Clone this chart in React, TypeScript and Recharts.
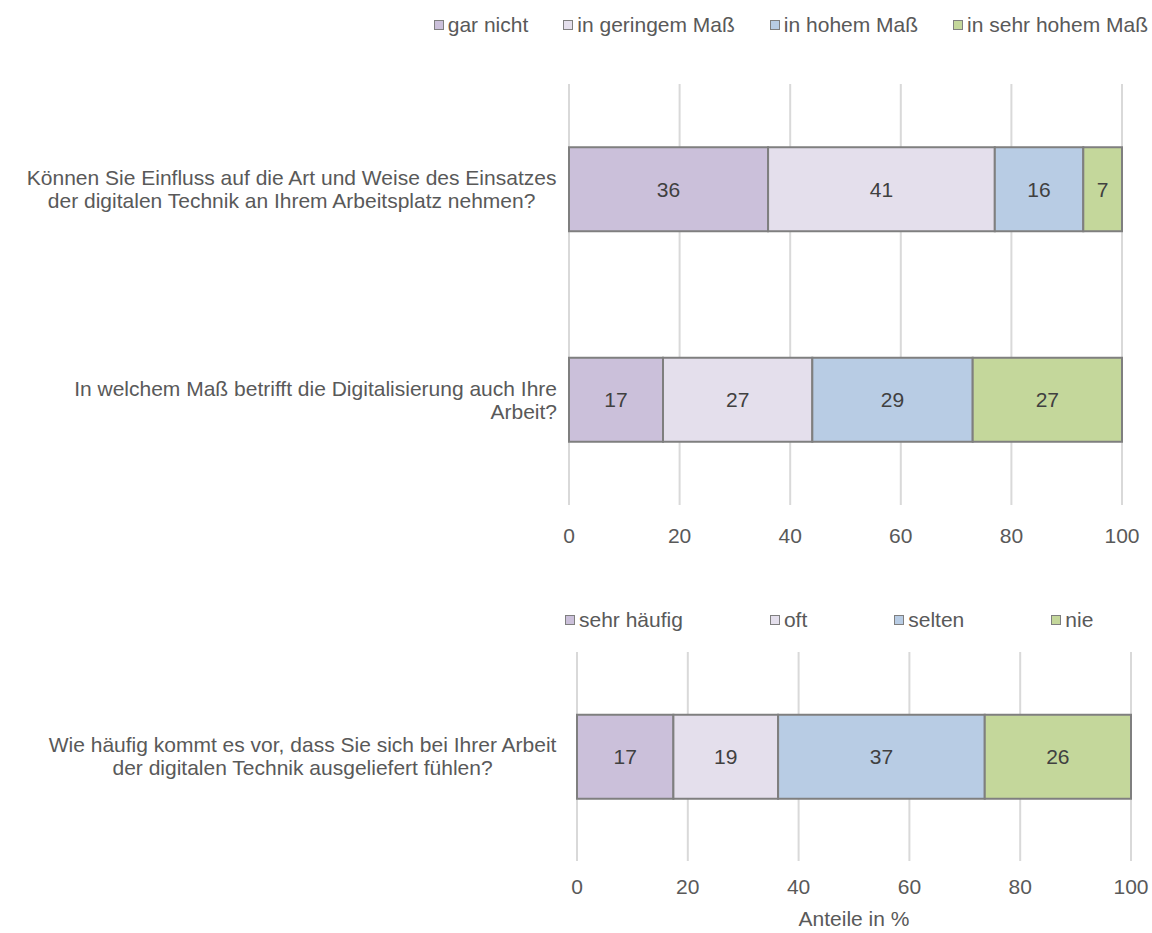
import React from "react";
import { BarChart, Bar, XAxis, YAxis, CartesianGrid, LabelList, Label } from "recharts";

// top chart: influence / affectedness
const topQuestions = [
  "Können Sie Einfluss auf die Art und Weise des Einsatzes\nder digitalen Technik an Ihrem Arbeitsplatz nehmen?",
  "In welchem Maß betrifft die Digitalisierung auch Ihre\nArbeit?",
];
const topSeries = ["gar nicht", "in geringem Maß", "in hohem Maß", "in sehr hohem Maß"];
const garNicht = [36, 17];
const geringem = [41, 27];
const hohem = [16, 29];
const sehrHohem = [7, 27];

// bottom chart: frequency
const bottomQuestions = [
  "Wie häufig kommt es vor, dass Sie sich bei Ihrer Arbeit\nder digitalen Technik ausgeliefert fühlen?",
];
const bottomSeries = ["sehr häufig", "oft", "selten", "nie"];
const sehrHaeufig = [17.4];
const oft = [18.9];
const selten = [37.3];
const nie = [26.4];

const xTicks = [0, 20, 40, 60, 80, 100];
const axisTitle = "Anteile in %";

const COLORS = ["#CBC0DA", "#E4DFEC", "#B8CCE4", "#C4D79B"];
const TEXT = "#595959";
const FONT_SIZE = 21;
const FONT_FAMILY = "'Liberation Sans', Arial, sans-serif";
const LINE = 23;

const topData = topQuestions.map((q, i) => ({
  q,
  s0: garNicht[i],
  s1: geringem[i],
  s2: hohem[i],
  s3: sehrHohem[i],
}));
const bottomData = bottomQuestions.map((q, i) => ({
  q,
  s0: sehrHaeufig[i],
  s1: oft[i],
  s2: selten[i],
  s3: nie[i],
}));

let ctx: CanvasRenderingContext2D | null = null;
const textWidth = (t: string) => {
  if (!ctx) ctx = document.createElement("canvas").getContext("2d");
  if (!ctx) return t.length * FONT_SIZE * 0.5;
  ctx.font = `${FONT_SIZE}px ${FONT_FAMILY}`;
  return ctx.measureText(t).width;
};

const QuestionTick = (props: any) => {
  const { x, y, payload, align } = props;
  const lines = String(payload.value).split("\n");
  const cx = x - textWidth(lines[0]) / 2;
  const y0 = y - ((lines.length - 1) * LINE) / 2;
  return (
    <g>
      {lines.map((l: string, i: number) => (
        <text
          key={i}
          x={align === "right" ? x : cx}
          y={y0 + i * LINE}
          dy="0.35em"
          textAnchor={align === "right" ? "end" : "middle"}
          fill={TEXT}
          fontSize={FONT_SIZE}
        >
          {l}
        </text>
      ))}
    </g>
  );
};

const LegendRow = ({ names, style }: { names: string[]; style: React.CSSProperties }) => (
  <div
    style={{
      position: "absolute",
      display: "flex",
      alignItems: "center",
      fontSize: FONT_SIZE,
      lineHeight: "24px",
      color: TEXT,
      whiteSpace: "nowrap",
      ...style,
    }}
  >
    {names.map((n, i) => (
      <div key={n} style={{ display: "flex", alignItems: "center" }}>
        <span
          style={{
            display: "inline-block",
            width: 8,
            height: 8,
            background: COLORS[i],
            border: "1.5px solid #7F7F7F",
            marginRight: 4,
          }}
        />
        <span>{n}</span>
      </div>
    ))}
  </div>
);

const renderBars = () =>
  ["s0", "s1", "s2", "s3"].map((k, i) => (
    <Bar
      key={k}
      dataKey={k}
      stackId="a"
      fill={COLORS[i]}
      stroke="#7F7F7F"
      strokeWidth={2}
      isAnimationActive={false}
    >
      <LabelList
        dataKey={k}
        position="center"
        fill="#404040"
        fontSize={FONT_SIZE}
        formatter={(v: any) => Math.round(Number(v))}
      />
    </Bar>
  ));

export default function App() {
  return (
    <div
      style={{
        position: "absolute",
        left: 0,
        top: 0,
        width: 1152,
        height: 933,
        background: "#fff",
        fontFamily: FONT_FAMILY,
      }}
    >
      <LegendRow names={topSeries} style={{ top: 13, right: 4, gap: 35 }} />
      <div style={{ position: "absolute", left: 0, top: 0 }}>
        <BarChart
          width={1152}
          height={560}
          data={topData}
          layout="vertical"
          margin={{ top: 84, right: 30, bottom: 15, left: 0 }}
          barCategoryGap="30%"
        >
          <CartesianGrid horizontal={false} stroke="#D9D9D9" strokeWidth={2} />
          <XAxis
            type="number"
            domain={[0, 100]}
            ticks={xTicks}
            axisLine={false}
            tickLine={false}
            tickMargin={17}
            height={40}
            tick={{ fill: TEXT, fontSize: FONT_SIZE }}
          />
          <YAxis
            type="category"
            dataKey="q"
            width={569}
            axisLine={false}
            tickLine={false}
            tickMargin={6}
            tick={(p: any) => <QuestionTick {...p} align={p.index === 1 ? "right" : "center"} />}
          />
          {renderBars()}
        </BarChart>
      </div>
      <LegendRow names={bottomSeries} style={{ top: 608, left: 565, gap: 87 }} />
      <div style={{ position: "absolute", left: 0, top: 560 }}>
        <BarChart
          width={1152}
          height={373}
          data={bottomData}
          layout="vertical"
          margin={{ top: 92, right: 21, bottom: 12, left: 0 }}
          barCategoryGap="30%"
        >
          <CartesianGrid horizontal={false} stroke="#D9D9D9" strokeWidth={2} />
          <XAxis
            type="number"
            domain={[0, 100]}
            ticks={xTicks}
            axisLine={false}
            tickLine={false}
            tickMargin={12}
            height={60}
            tick={{ fill: TEXT, fontSize: FONT_SIZE }}
          >
            <Label value={axisTitle} position="insideBottom" offset={-5} fill={TEXT} fontSize={FONT_SIZE} />
          </XAxis>
          <YAxis
            type="category"
            dataKey="q"
            width={577}
            axisLine={false}
            tickLine={false}
            tickMargin={14}
            tick={(p: any) => <QuestionTick {...p} align="center" />}
          />
          {renderBars()}
        </BarChart>
      </div>
    </div>
  );
}
